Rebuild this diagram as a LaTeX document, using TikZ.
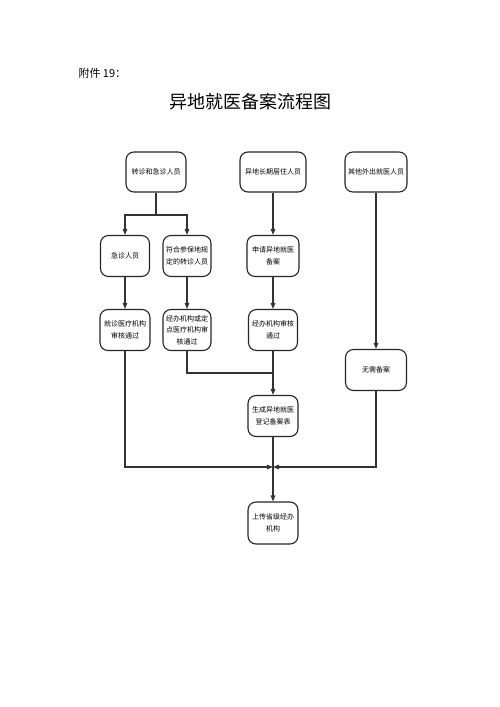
\documentclass[tikz,border=0pt]{standalone}
\usepackage{fontspec}
\setmainfont{Noto Sans CJK SC}
\usetikzlibrary{arrows.meta}
\begin{document}
\begin{tikzpicture}[x=1pt,y=-1pt,
  box/.style={draw=black!85,line width=1.1pt,rounded corners=8pt,align=center,
    font=\fontsize{7}{12.5}\selectfont,inner sep=0pt},
  ln/.style={draw=black!80,line width=1.2pt},
  arr/.style={ln,-{Triangle[length=6pt,width=4.5pt]}}]
\useasboundingbox (0,0) rectangle (500,707);
\fill[white] (0,0) rectangle (500,707);
\node[anchor=west,font=\fontsize{11}{13}\selectfont] (att) at (75,73) {附件 19：};
\node[font=\fontsize{18}{20}\selectfont] (title) at (250,102) {异地就医备案流程图};
% row 1
\node[box,minimum width=60pt,minimum height=40pt] (a) at (156,172) {转诊和急诊人员};
\node[box,minimum width=66pt,minimum height=40pt] (b) at (273,172) {异地长期居住人员};
\node[box,minimum width=62pt,minimum height=40pt] (c) at (376,172) {其他外出就医人员};
% row 2
\node[box,minimum width=49pt,minimum height=41pt] (a1) at (125,256) {急诊人员};
\node[box,minimum width=48pt,minimum height=41pt] (a2) at (187,256) {符合参保地规\\定的转诊人员};
\node[box,minimum width=52pt,minimum height=41pt] (b1) at (273,256) {申请异地就医\\备案};
% row 3
\node[box,minimum width=50pt,minimum height=41pt] (a1r) at (125,330) {就诊医疗机构\\审核通过};
\node[box,minimum width=48pt,minimum height=41pt,font=\fontsize{7}{11.5}\selectfont] (a2r) at (187,330) {经办机构或定\\点医疗机构审\\核通过};
\node[box,minimum width=49pt,minimum height=41pt] (b1r) at (273,330) {经办机构审核\\通过};
\node[box,minimum width=61pt,minimum height=41pt] (c1) at (376,370) {无需备案};
% row 4
\node[box,minimum width=50pt,minimum height=41pt] (gen) at (273,416) {生成异地就医\\登记备案表};
\node[box,minimum width=50pt,minimum height=42pt] (up) at (273,523) {上传省级经办\\机构};
% connectors
\coordinate (split) at (156,215);
\coordinate (merge) at (273,467);
\draw[ln] (a.south) -- (split);
\draw[arr] (split) -| (a1.north);
\draw[arr] (split) -| (a2.north);
\draw[arr] (b.south) -- (b1.north);
\draw[arr] (a1.south) -- (a1r.north);
\draw[arr] (a2.south) -- (a2r.north);
\draw[arr] (b1.south) -- (b1r.north);
\draw[arr] (c.south) -- (c1.north);
\draw[ln] (a2r.south) |- (273,373);
\draw[arr] (b1r.south) -- (gen.north);
\draw[arr] (a1r.south) |- (merge);
\draw[arr] (c1.south) |- (merge);
\draw[arr] (gen.south) -- (up.north);
\end{tikzpicture}
\end{document}
